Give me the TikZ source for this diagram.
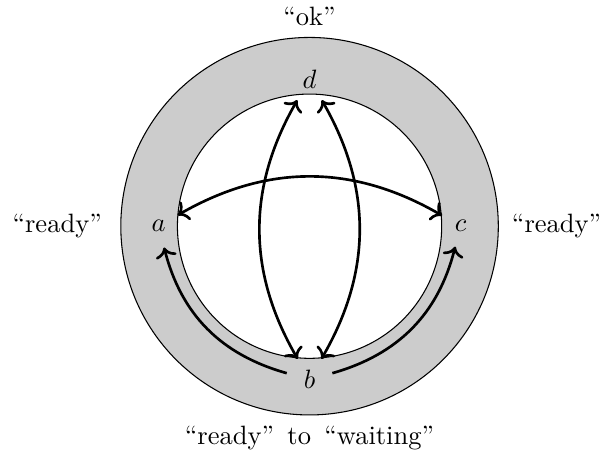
\documentclass[tikz,border=0pt]{standalone}
\usepackage{amsmath,amssymb}
\usetikzlibrary{arrows.meta,positioning}
\definecolor{cring}{HTML}{CCCCCC}

\begin{document}
\begin{tikzpicture}[
    ringcircle/.style={
        circle, draw=black, line width=0.4pt, fill=#1,
        inner sep=0pt,
    },
    state/.style={circle, inner sep=0.3333em},
    biarrow/.style={<->, line width=1pt},
    onearrow/.style={->, line width=1pt},
    quote/.style={inner sep=0.3333em},
]
\useasboundingbox (-4.1,-3.057) rectangle (3.9,2.996);

% ============================================================
% RING
% ============================================================
\node[ringcircle=cring, minimum size=5cm] (outer) at (0,0) {};
\node[ringcircle=white, minimum size=3.5cm] (inner) at (0,0) {};

% ============================================================
% STATES
% ============================================================
\node[state] (a) at (-2,0) {$a$};
\node[state] (c) at (2,0) {$c$};
\node[state] (d) at (0,1.95) {$d$};
\node[state] (b) at (0,-2.03) {$b$};

% ============================================================
% MESSAGES
% ============================================================
\node[quote, above=0.02cm of outer.north] (ok) {``ok''};
\node[quote, left=0.12cm of outer.west] (readyl) {``ready''};
\node[quote, right=0.05cm of outer.east] (readyr) {``ready''};
\node[quote, below=0.02cm of outer.south] (waiting)
    {``ready''\enspace to\enspace ``waiting''};

% ============================================================
% TRANSITIONS
% ============================================================
\draw[biarrow] (a) to[bend left=30] (c);
\draw[biarrow] (d) to[bend right=30] (b);
\draw[biarrow] (d) to[bend left=30] (b);

% b -> a, b -> c
\draw[onearrow] (b) to[bend left=30] (a);
\draw[onearrow] (b) to[bend right=30] (c);

\end{tikzpicture}
\end{document}
